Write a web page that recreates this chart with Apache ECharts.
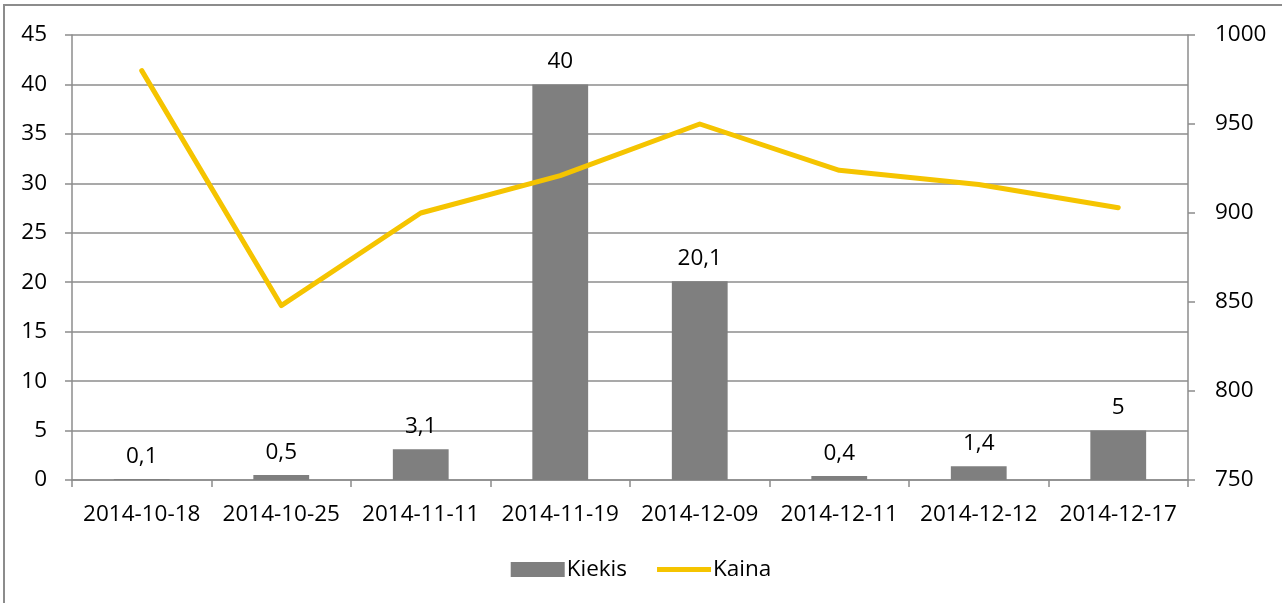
<!DOCTYPE html>
<html>
<head>
<meta charset="utf-8">
<script src="https://cdn.jsdelivr.net/npm/echarts@6/dist/echarts.min.js"></script>
<style>
  html, body { margin: 0; padding: 0; background: #fff; }
  #chart { width: 1282px; height: 603px; }
</style>
</head>
<body>
<div id="chart"></div>
<script>
var dates = ["2014-10-18", "2014-10-25", "2014-11-11", "2014-11-19", "2014-12-09", "2014-12-11", "2014-12-12", "2014-12-17"];
var kiekis = [0.1, 0.5, 3.1, 40, 20.1, 0.4, 1.4, 5];
var kaina = [980, 848, 900, 921, 950, 924, 916, 903];

var font = "'Open Sans', 'Noto Sans', sans-serif";
var fs = 22.5;
var myChart = echarts.init(document.getElementById("chart"));
myChart.setOption({
  animation: false,
  textStyle: { fontFamily: font },
  graphic: [
    {
      type: "rect",
      shape: { x: 4, y: 5, width: 1300, height: 620 },
      style: { fill: "none", stroke: "#8c8c8c", lineWidth: 2 },
    },
  ],
  grid: { left: 72, right: 94, top: 35, bottom: 123, containLabel: false },
  legend: {
    bottom: 17,
    left: "center",
    itemWidth: 54,
    itemHeight: 15,
    itemGap: 30,
    textStyle: { fontSize: fs, color: "#000", fontFamily: font, padding: [0, 0, 0, -3] },
    data: [
      { name: "Kiekis", icon: "rect" },
      { name: "Kaina", icon: "path://M0,0 L54,0 L54,5 L0,5 Z", itemStyle: { color: "#f5c400" } },
    ],
  },
  xAxis: {
    type: "category",
    data: dates,
    axisLine: { lineStyle: { color: "#8c8c8c", width: 1.5 } },
    axisTick: { show: true, length: 7, lineStyle: { color: "#8c8c8c", width: 1.5 } },
    axisLabel: { color: "#000", fontSize: fs, margin: 23, interval: 0 },
  },
  yAxis: [
    {
      type: "value",
      min: 0,
      max: 45,
      interval: 5,
      axisLine: { show: true, lineStyle: { color: "#8c8c8c", width: 1.5 } },
      axisTick: { show: true, length: 7, lineStyle: { color: "#8c8c8c", width: 1.5 } },
      axisLabel: { color: "#000", fontSize: fs, margin: 25 },
      splitLine: { lineStyle: { color: "#8c8c8c", width: 1.5 } },
    },
    {
      type: "value",
      min: 750,
      max: 1000,
      interval: 50,
      axisLine: { show: true, lineStyle: { color: "#8c8c8c", width: 1.5 } },
      axisTick: { show: true, length: 7, lineStyle: { color: "#8c8c8c", width: 1.5 } },
      axisLabel: { color: "#000", fontSize: fs, margin: 27, formatter: function (v) { return String(v); } },
      splitLine: { show: false },
    },
  ],
  series: [
    {
      name: "Kiekis",
      type: "bar",
      data: kiekis,
      barWidth: "40%",
      itemStyle: { color: "#7f7f7f" },
      label: {
        show: true,
        position: "top",
        distance: 11,
        color: "#000",
        fontSize: fs,
        formatter: function (p) {
          return String(p.value).replace(".", ",");
        },
      },
    },
    {
      name: "Kaina",
      type: "line",
      yAxisIndex: 1,
      data: kaina,
      symbol: "none",
      lineStyle: { color: "#f5c400", width: 5, cap: "round", join: "round" },
      itemStyle: { color: "#f5c400" },
    },
  ],
});
</script>
</body>
</html>
